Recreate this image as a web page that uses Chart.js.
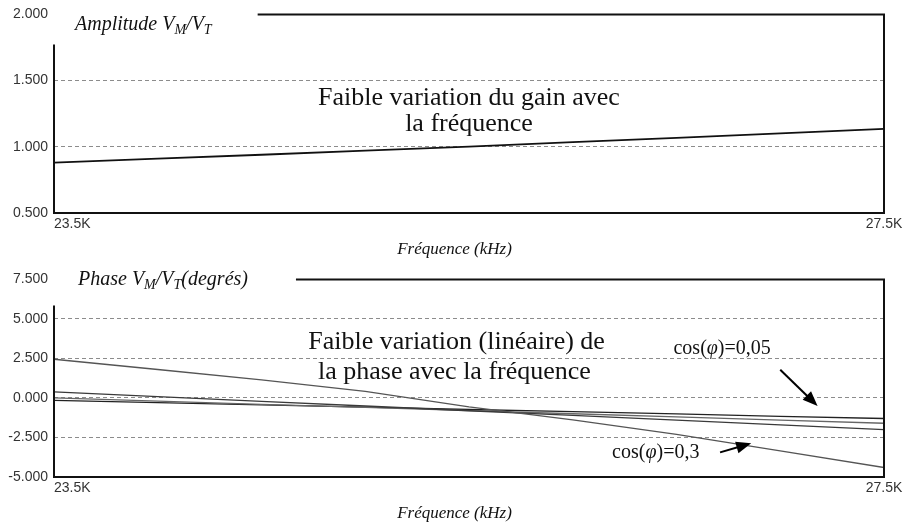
<!DOCTYPE html>
<html>
<head>
<meta charset="utf-8">
<script src="https://cdn.jsdelivr.net/npm/chart.js@4.4.1/dist/chart.umd.min.js"></script>
<style>
  html, body { margin: 0; padding: 0; background: #fff; }
  #wrap { width: 903px; height: 529px; overflow: hidden; }
  canvas { display: block; }
</style>
</head>
<body>
<div id="wrap">
  <canvas id="amp" width="903" height="265"></canvas>
  <canvas id="phase" width="903" height="264"></canvas>
</div>
<script>
// Frequency sweep (kHz)
const frequencies = [23.5, 24.0, 24.5, 25.0, 25.5, 26.0, 26.5, 27.0, 27.5];

// Amplitude ratio VM/VT
const amplitude = [0.881, 0.910, 0.940, 0.971, 1.002, 1.035, 1.068, 1.102, 1.136];

// Phase VM/VT in degrees, one curve per power factor
const phaseCos03  = [2.45, 1.80, 1.15, 0.42, -0.57, -1.38, -2.30, -3.35, -4.40];
const phaseCos02  = [0.38, 0.08, -0.22, -0.51, -0.81, -1.10, -1.40, -1.70, -2.00];
const phaseCos01  = [0.00, -0.20, -0.40, -0.60, -0.80, -1.00, -1.20, -1.40, -1.60];
const phaseCos005 = [-0.15, -0.29, -0.44, -0.58, -0.73, -0.87, -1.01, -1.16, -1.30];

// Axis ticks
const freqTicks = [23.5, 27.5];
const ampTicks = [0.5, 1.0, 1.5, 2.0];
const phaseTicks = [-5, -2.5, 0, 2.5, 5, 7.5];

const SERIF = '"Liberation Serif", "Times New Roman", serif';
const SANS = '"Liberation Sans", Arial, sans-serif';

const toPoints = (ys) => frequencies.map((f, i) => ({ x: f, y: ys[i] }));

// Draws a run of text pieces (italic, subscripts...) one after another
function drawRich(ctx, parts, x, y, align) {
  const widths = parts.map(p => { ctx.font = p.font; return ctx.measureText(p.t).width; });
  const total = widths.reduce((a, b) => a + b, 0);
  let cx = align === 'center' ? x - total / 2 : x;
  ctx.textAlign = 'left';
  parts.forEach((p, i) => {
    ctx.font = p.font;
    ctx.fillText(p.t, cx, y + (p.dy || 0));
    cx += widths[i];
  });
  return cx;
}

function drawArrow(ctx, x1, y1, x2, y2) {
  const a = Math.atan2(y2 - y1, x2 - x1);
  const L = 15, W = 6;
  ctx.beginPath();
  ctx.moveTo(x1, y1);
  ctx.lineTo(x2 - L * 0.7 * Math.cos(a), y2 - L * 0.7 * Math.sin(a));
  ctx.lineWidth = 2;
  ctx.stroke();
  ctx.beginPath();
  ctx.moveTo(x2, y2);
  ctx.lineTo(x2 - L * Math.cos(a) + W * Math.sin(a), y2 - L * Math.sin(a) - W * Math.cos(a));
  ctx.lineTo(x2 - L * Math.cos(a) - W * Math.sin(a), y2 - L * Math.sin(a) + W * Math.cos(a));
  ctx.closePath();
  ctx.fill();
}

// Frame, panel title, notes and arrows
const decorPlugin = {
  id: 'decor',
  beforeDraw(chart) {
    // last frequency label sits centred on the right edge
    const items = chart.scales.x.getLabelItems();
    if (items.length) items[items.length - 1].options.textAlign = 'center';
  },
  afterDatasetsDraw(chart, args, opts) {
    const { ctx, chartArea: ca, scales: { x, y } } = chart;
    ctx.save();
    ctx.fillStyle = '#111';
    ctx.textBaseline = 'alphabetic';
    const titleEnd = drawRich(ctx, opts.title, ca.left + opts.titleDx, ca.top + opts.titleDy, 'left');

    // frame: top edge starts after the title, left edge starts below it
    ctx.strokeStyle = '#111';
    ctx.lineWidth = 2;
    ctx.beginPath();
    ctx.moveTo(titleEnd + opts.frameGap, ca.top);
    ctx.lineTo(ca.right, ca.top);
    ctx.lineTo(ca.right, ca.bottom);
    ctx.moveTo(ca.left, ca.top + opts.axisStart);
    ctx.lineTo(ca.left, ca.bottom);
    ctx.stroke();

    // notes placed in data coordinates
    ctx.textBaseline = 'middle';
    (opts.notes || []).forEach(n => {
      drawRich(ctx, n.parts, x.getPixelForValue(n.f), y.getPixelForValue(n.v), 'center');
    });
    ctx.strokeStyle = '#000';
    ctx.fillStyle = '#000';
    (opts.arrows || []).forEach(a => {
      drawArrow(ctx, x.getPixelForValue(a.from[0]), y.getPixelForValue(a.from[1]),
                     x.getPixelForValue(a.to[0]), y.getPixelForValue(a.to[1]));
    });

    // x axis title
    ctx.fillStyle = '#111';
    drawRich(ctx, [{ t: 'Fréquence (kHz)', font: 'italic 17px ' + SERIF }],
             x.getPixelForValue(opts.xTitleAt), ca.bottom + 37, 'center');
    ctx.restore();
  }
};

function makeScales(yMin, yMax, yTicks) {
  return {
    x: {
      type: 'linear', min: 23.5, max: 27.5,
      afterBuildTicks: s => { s.ticks = freqTicks.map(v => ({ value: v })); },
      afterFit: s => { s.height = 52; },
      grid: { display: false, drawTicks: false },
      border: { display: true, color: '#111', width: 2 },
      ticks: {
        align: 'inner', padding: 3, maxRotation: 0, color: '#333',
        font: { family: SANS, size: 14 },
        callback: v => v.toFixed(1) + 'K'
      }
    },
    y: {
      type: 'linear', min: yMin, max: yMax,
      afterBuildTicks: s => { s.ticks = yTicks.map(v => ({ value: v })); },
      afterFit: s => { s.width = 54; },
      grid: {
        drawTicks: false, lineWidth: 1,
        color: c => (c.tick && (c.tick.value === yMin || c.tick.value === yMax)) ? 'rgba(0,0,0,0)' : '#8c8c8c'
      },
      border: { display: false, dash: [4, 3] },
      ticks: {
        padding: 6, color: '#333',
        font: { family: SANS, size: 14 },
        callback: v => v.toFixed(3)
      }
    }
  };
}

const common = {
  responsive: false,
  animation: false,
  devicePixelRatio: 1,
  elements: { point: { radius: 0 }, line: { tension: 0 } },
};

const sub = 'italic 14px ' + SERIF;
const ttl = 'italic 20px ' + SERIF;
const note = '26px ' + SERIF;
const lab = '20px ' + SERIF;
const labI = 'italic 20px ' + SERIF;

new Chart(document.getElementById('amp'), {
  type: 'line',
  data: {
    datasets: [
      { data: toPoints(amplitude), borderColor: '#111', borderWidth: 1.8 }
    ]
  },
  options: Object.assign({}, common, {
    layout: { padding: { top: 6.6, right: 19, bottom: 0, left: 0 } },
    scales: makeScales(0.5, 2.0, ampTicks),
    plugins: {
      legend: { display: false },
      tooltip: { enabled: false },
      decor: {
        title: [
          { t: 'Amplitude V', font: ttl },
          { t: 'M', font: sub, dy: 4 },
          { t: '/V', font: ttl },
          { t: 'T', font: sub, dy: 4 }
        ],
        titleDx: 21, titleDy: 15.5, frameGap: 46, axisStart: 30,
        xTitleAt: 25.43,
        notes: [
          { f: 25.5, v: 1.364, parts: [{ t: 'Faible variation du gain avec', font: note }] },
          { f: 25.5, v: 1.174, parts: [{ t: 'la fréquence', font: note }] }
        ]
      }
    }
  }),
  plugins: [decorPlugin]
});

new Chart(document.getElementById('phase'), {
  type: 'line',
  data: {
    datasets: [
      { data: toPoints(phaseCos03), borderColor: '#555', borderWidth: 1.3 },
      { data: toPoints(phaseCos02), borderColor: '#3a3a3a', borderWidth: 1.3 },
      { data: toPoints(phaseCos01), borderColor: '#666', borderWidth: 1.3 },
      { data: toPoints(phaseCos005), borderColor: '#222', borderWidth: 1.3 }
    ]
  },
  options: Object.assign({}, common, {
    layout: { padding: { top: 8.6, right: 19, bottom: 0, left: 0 } },
    scales: makeScales(-5, 7.5, phaseTicks),
    plugins: {
      legend: { display: false },
      tooltip: { enabled: false },
      decor: {
        title: [
          { t: 'Phase V', font: ttl },
          { t: 'M', font: sub, dy: 4 },
          { t: '/V', font: ttl },
          { t: 'T', font: sub, dy: 4 },
          { t: '(degrés)', font: ttl }
        ],
        titleDx: 24, titleDy: 6, frameGap: 48, axisStart: 26,
        xTitleAt: 25.43,
        notes: [
          { f: 25.44, v: 3.51, parts: [{ t: 'Faible variation (linéaire) de', font: note }] },
          { f: 25.43, v: 1.66, parts: [{ t: 'la phase avec la fréquence', font: note }] },
          { f: 26.72, v: 3.13, parts: [{ t: 'cos(', font: lab }, { t: 'φ', font: labI }, { t: ')=0,05', font: lab }] },
          { f: 26.40, v: -3.44, parts: [{ t: 'cos(', font: lab }, { t: 'φ', font: labI }, { t: ')=0,3', font: lab }] }
        ],
        arrows: [
          { from: [27.0, 1.79], to: [27.18, -0.51] },
          { from: [26.71, -3.44], to: [26.86, -2.87] }
        ]
      }
    }
  }),
  plugins: [decorPlugin]
});
</script>
</body>
</html>
